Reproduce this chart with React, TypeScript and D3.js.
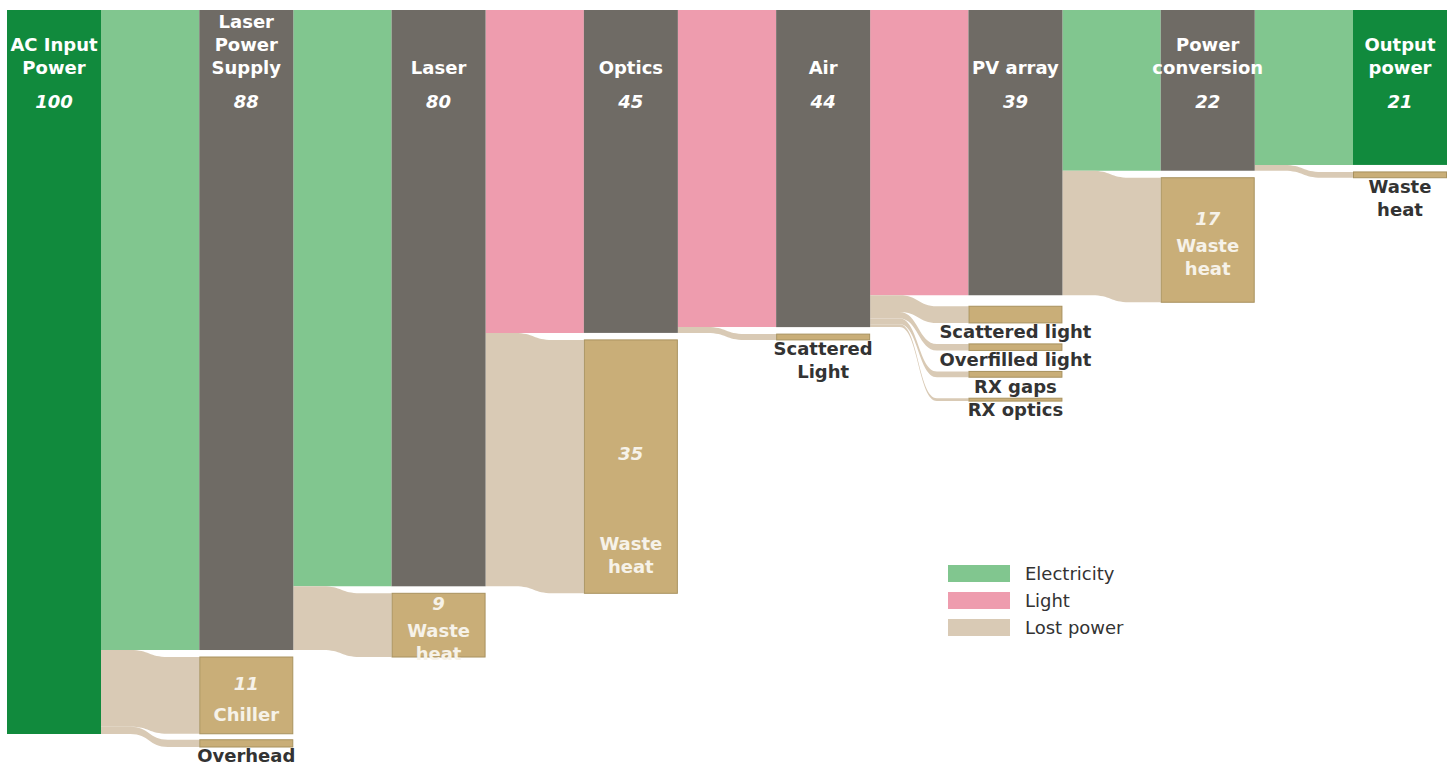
import React from "react";
import * as d3 from "d3";

// ---- data ----
const stageLines: string[][] = [
  ["AC Input", "Power"],
  ["Laser", "Power", "Supply"],
  ["Laser"],
  ["Optics"],
  ["Air"],
  ["PV array"],
  ["Power", "conversion"],
  ["Output", "power"],
];
const stageValues = [100, 88.4, 79.6, 44.6, 43.8, 39.4, 22.2, 21.4];
const stageLabels = ["100", "88", "80", "45", "44", "39", "22", "21"];
// flow type of the link leaving stage i towards stage i+1
const flowTypes = ["Electricity", "Electricity", "Light", "Light", "Light", "Electricity", "Electricity"];

const lossStage = [1, 1, 2, 3, 4, 5, 5, 5, 5, 6, 7];
const lossNames: string[][] = [
  ["Chiller"],
  ["Overhead"],
  ["Waste", "heat"],
  ["Waste", "heat"],
  ["Scattered", "Light"],
  ["Scattered light"],
  ["Overfilled light"],
  ["RX gaps"],
  ["RX optics"],
  ["Waste", "heat"],
  ["Waste", "heat"],
];
const lossValues = [10.6, 1.0, 8.8, 35.0, 0.8, 2.3, 0.9, 0.8, 0.4, 17.2, 0.8];
const lossLabels = ["11", "", "9", "35", "", "", "", "", "", "17", ""];

const legendItems = ["Electricity", "Light", "Lost power"];

// ---- style ----
const W = 1452;
const H = 767;
const FONT = "'DejaVu Sans', Verdana, sans-serif";
const colors: Record<string, string> = {
  Electricity: "#81c68f",
  Light: "#ee9cae",
  "Lost power": "#d9cab5",
};
const endNodeColor = "#118a3d";
const midNodeColor = "#6f6b65";
const lossNodeColor = "#c9ae78";
const lossNodeStroke = "#a8925f";

const TOP = 10;
const NODE_W = 94;

export default function App() {
  const x = d3.scaleLinear().domain([0, stageValues.length - 1]).range([7, 1353]);
  const h = d3.scaleLinear().domain([0, 100]).range([0, 724]);

  // main nodes
  const stages = stageValues.map((v, i) => ({
    i,
    x0: x(i),
    x1: x(i) + NODE_W,
    y0: TOP,
    y1: TOP + h(v),
  }));

  // loss nodes
  const lossNodes: any[] = [];
  const colCursor: Record<number, number> = {};
  lossValues.forEach((v, j) => {
    const s = lossStage[j];
    const inside = lossLabels[j] !== "";
    let y0: number;
    if (colCursor[s] === undefined) {
      y0 = stages[s].y1 + (s === 5 ? 11 : 7);
    } else {
      y0 = colCursor[s];
    }
    const y1 = y0 + h(v);
    colCursor[s] = y1 + (inside ? 6 : 21);
    lossNodes.push({ j, s, x0: x(s), x1: x(s) + NODE_W, y0, y1, inside });
  });

  const bandPath = (x0: number, x1: number, sy0: number, sy1: number, ty0: number, ty1: number) => {
    const w = x1 - x0;
    const xa = x0 + 0.3 * w;
    const xb = x0 + 0.68 * w;
    const xm = (xa + xb) / 2;
    const p = d3.path();
    p.moveTo(x0, sy0);
    p.lineTo(xa, sy0);
    p.bezierCurveTo(xm, sy0, xm, ty0, xb, ty0);
    p.lineTo(x1, ty0);
    p.lineTo(x1, ty1);
    p.lineTo(xb, ty1);
    p.bezierCurveTo(xm, ty1, xm, sy1, xa, sy1);
    p.lineTo(x0, sy1);
    p.closePath();
    return p.toString();
  };

  // links
  const links: { d: string; fill: string }[] = [];
  for (let i = 0; i < stages.length - 1; i++) {
    const src = stages[i];
    const tgt = stages[i + 1];
    let cursor = src.y0;
    const mainH = h(stageValues[i + 1]);
    links.push({
      d: bandPath(src.x1, tgt.x0, cursor, cursor + mainH, tgt.y0, tgt.y1),
      fill: colors[flowTypes[i]],
    });
    cursor += mainH;
    lossNodes
      .filter((n) => n.s === i + 1)
      .forEach((n) => {
        const lh = n.y1 - n.y0;
        links.push({
          d: bandPath(src.x1, n.x0, cursor, cursor + lh, n.y0, n.y1),
          fill: colors["Lost power"],
        });
        cursor += lh;
      });
  }

  const LINE = 23;
  const FS = 18;

  return (
    <svg
      width={W}
      height={H}
      style={{ position: "absolute", left: 0, top: 0, background: "#fff" }}
      fontFamily={FONT}
    >
      <g>
        {links.map((l, k) => (
          <path key={k} d={l.d} fill={l.fill} />
        ))}
      </g>
      <g>
        {stages.map((s) => {
          const isEnd = s.i === 0 || s.i === stages.length - 1;
          const lines = stageLines[s.i];
          const cx = (s.x0 + s.x1) / 2;
          return (
            <g key={s.i}>
              <rect
                x={s.x0}
                y={s.y0}
                width={NODE_W}
                height={s.y1 - s.y0}
                fill={isEnd ? endNodeColor : midNodeColor}
              />
              {lines.map((t, k) => (
                <text
                  key={k}
                  x={cx}
                  y={68 - (lines.length - 1 - k) * LINE}
                  dy="0.35em"
                  textAnchor="middle"
                  fill="#fff"
                  fontWeight="bold"
                  fontSize={FS}
                >
                  {t}
                </text>
              ))}
              <text
                x={cx}
                y={102}
                dy="0.35em"
                textAnchor="middle"
                fill="#fff"
                fontWeight="bold"
                fontStyle="italic"
                fontSize={FS}
              >
                {stageLabels[s.i]}
              </text>
            </g>
          );
        })}
      </g>
      <g>
        {lossNodes.map((n) => {
          const cx = (n.x0 + n.x1) / 2;
          const names = lossNames[n.j];
          const hgt = n.y1 - n.y0;
          let content: React.ReactNode;
          if (n.inside) {
            let valueY: number;
            let firstLineY: number;
            if (hgt > 200) {
              valueY = n.y0 + hgt * 0.45;
              firstLineY = n.y1 - 27 - (names.length - 1) * LINE;
            } else {
              const gapV = names.length > 1 ? 27 : 31;
              const blockH = gapV + (names.length - 1) * LINE;
              const c = (n.y0 + n.y1) / 2 + 4;
              valueY = c - blockH / 2;
              firstLineY = valueY + gapV;
            }
            content = (
              <>
                <text
                  x={cx}
                  y={valueY}
                  dy="0.35em"
                  textAnchor="middle"
                  fill="#f6f2e9"
                  fontWeight="bold"
                  fontStyle="italic"
                  fontSize={FS}
                >
                  {lossLabels[n.j]}
                </text>
                {names.map((t, k) => (
                  <text
                    key={k}
                    x={cx}
                    y={firstLineY + k * LINE}
                    dy="0.35em"
                    textAnchor="middle"
                    fill="#f6f2e9"
                    fontWeight="bold"
                    fontSize={FS}
                  >
                    {t}
                  </text>
                ))}
              </>
            );
          } else {
            content = names.map((t, k) => (
              <text
                key={k}
                x={cx}
                y={n.y1 + 9 + k * LINE}
                dy="0.35em"
                textAnchor="middle"
                fill="#333"
                fontWeight="bold"
                fontSize={FS}
              >
                {t}
              </text>
            ));
          }
          return (
            <g key={n.j}>
              <rect
                x={n.x0 + 0.5}
                y={n.y0}
                width={NODE_W - 1}
                height={Math.max(hgt, 1)}
                fill={lossNodeColor}
                stroke={lossNodeStroke}
                strokeWidth={1}
              />
              {content}
            </g>
          );
        })}
      </g>
      <g>
        {legendItems.map((name, k) => (
          <g key={name} transform={`translate(948, ${565 + k * 27})`}>
            <rect width={62} height={17} fill={colors[name]} />
            <text x={77} y={8.5} dy="0.35em" fill="#333" fontSize={FS}>
              {name}
            </text>
          </g>
        ))}
      </g>
    </svg>
  );
}
